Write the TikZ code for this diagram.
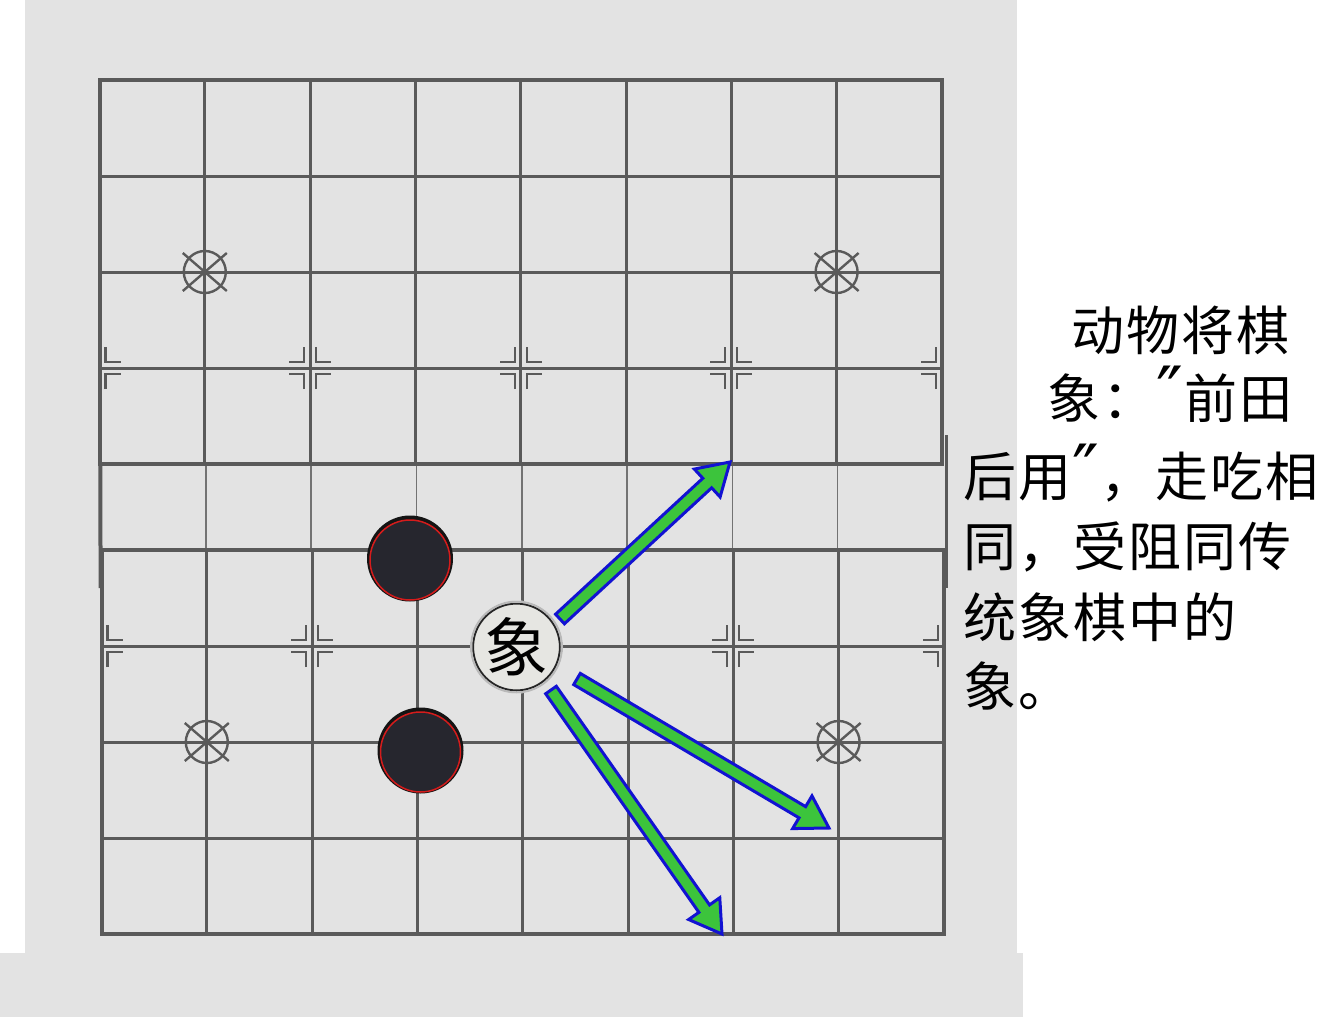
\documentclass[tikz,border=0pt]{standalone}
\usepackage{fontspec}
\newfontfamily\cjk[LetterSpace=4]{Noto Sans CJK SC}
\newfontfamily\cjkpiece{Noto Sans CJK SC}
\newfontfamily\primefont{DejaVu Sans}
\usetikzlibrary{calc}
\definecolor{bgc}{HTML}{E3E3E3}
\definecolor{gridc}{HTML}{5A5A5A}
\definecolor{arrowgreen}{HTML}{3CC43C}
\definecolor{arrowblue}{HTML}{1212D2}
\definecolor{piecedark}{HTML}{26262E}
\definecolor{piecered}{HTML}{D41C1C}
\definecolor{pieceface}{HTML}{E6E6E2}
\tikzset{
  bordline/.style={draw=gridc, line width=4pt},
  gridline/.style={draw=gridc, line width=3pt},
  riverline/.style={draw=gridc!85, line width=1.6pt},
  cornermark/.style={draw=gridc, line width=2.2pt},
  starline/.style={draw=gridc, line width=2.4pt},
  arrowshape/.style={fill=arrowgreen, draw=arrowblue, line width=3pt, line join=miter},
  txt/.style={anchor=west, inner sep=0pt, font=\cjk\fontsize{53}{60}\selectfont},
  blackpiece/.style={circle, minimum size=80pt, inner sep=0pt, fill=piecedark, draw=piecered, line width=1.5pt},
}
\newcommand{\dprime}{\smash{\primefont\fontsize{72}{72}\selectfont\kern1pt″\kern1pt}}
\newcommand{\fatarrow}[2]{%
  \path ($(#2)!31pt!(#1)$) coordinate (neck);
  \filldraw[arrowshape] ($(#1)!6.5pt!90:(#2)$) -- ($(neck)!6.5pt!-90:(#1)$) -- ($(neck)!19pt!-90:(#1)$)
    -- (#2) -- ($(neck)!19pt!90:(#1)$) -- ($(neck)!6.5pt!90:(#1)$) -- ($(#1)!6.5pt!-90:(#2)$) -- cycle;}
\begin{document}
\begin{tikzpicture}[x=1pt,y=-1pt]
\useasboundingbox (0,0) rectangle (1320,1017);
\fill[white] (0,0) rectangle (1320,1017);
% backgrounds
\fill[bgc] (25,0) rectangle (1017,953);
\fill[bgc] (0,953) rectangle (1023,1017);
% river thin lines
\foreach \i in {1,...,7} \draw[riverline] ({100.5+105.3*\i},464) -- ({100.5+105.3*\i},550);
% top half grid
\foreach \i in {1,...,7} \draw[gridline] ({99.5+105.3*\i},80) -- ({99.5+105.3*\i},464);
\foreach \y in {176,272,368} \draw[gridline] (99.5,\y) -- (941.9,\y);
\draw[bordline] (99.5,80) rectangle (941.9,464);
% bottom half grid
\foreach \i in {1,...,7} \draw[gridline] ({101.5+105.3*\i},550) -- ({101.5+105.3*\i},934);
\foreach \y in {646,742,838} \draw[gridline] (101.5,\y) -- (943.9,\y);
\draw[bordline] (101.5,550) rectangle (943.9,934);
% river borders
\draw[bordline] (100.3,462) -- (100.6,588);
\draw[gridline] (946,435) -- (946,588);
% corner marks
\foreach \px/\py/\sides in {99.5/368/{1}, 310.1/368/{-1,1}, 520.7/368/{-1,1}, 731.3/368/{-1,1}, 941.9/368/{-1},
  101.5/646/{1}, 312.1/646/{-1,1}, 733.3/646/{-1,1}, 943.9/646/{-1}} {
  \foreach \sx in \sides {
    \foreach \sy in {-1,1} {
      \draw[cornermark] ({\px+\sx*6},{\py+\sy*21}) -- ({\px+\sx*6},{\py+\sy*6}) -- ({\px+\sx*21},{\py+\sy*6});
    }
  }
}
% star points
\foreach \px/\py in {204.8/272, 836.6/272, 206.8/742, 838.6/742} {
  \draw[starline] (\px,\py) circle (21);
  \draw[starline] ({\px-22},{\py-19}) -- ({\px+22},{\py+19});
  \draw[starline] ({\px-22},{\py+19}) -- ({\px+22},{\py-19});
}
% arrows
\coordinate (t1) at (560,619);
\coordinate (p1) at (730,462);
\coordinate (t2) at (577,679);
\coordinate (p2) at (829,828);
\coordinate (t3) at (551,690);
\coordinate (p3) at (722,934);
\fatarrow{t1}{p1}
\fatarrow{t2}{p2}
\fatarrow{t3}{p3}
% black pieces
\fill[black!92] (410,558.5) circle (43);
\node[blackpiece] (b1) at (410,560) {};
\fill[black!92] (420.5,750.5) circle (43);
\node[blackpiece] (b2) at (420.5,752) {};
% xiang piece
\fill[white] (516.5,647) circle (46.5);
\draw[gray!55, line width=2pt] (516.5,647) circle (45.5);
\node[circle, minimum size=82pt, inner sep=0pt, fill=pieceface, draw=black!85, line width=1.8pt,
  font=\cjkpiece\fontsize{64}{66}\selectfont] (xiang) at (516.5,647) {象};
% text
\node[txt] (l1) at (1071,330) {动物将棋};
\node[txt] (l2) at (1047,398) {象：\dprime 前田};
\node[txt] (l3) at (963,477) {后用\dprime ，走吃相};
\node[txt] (l4) at (963,547) {同，受阻同传};
\node[txt] (l5) at (963,617) {统象棋中的};
\node[txt] (l6) at (963,686) {象。};
\end{tikzpicture}
\end{document}
